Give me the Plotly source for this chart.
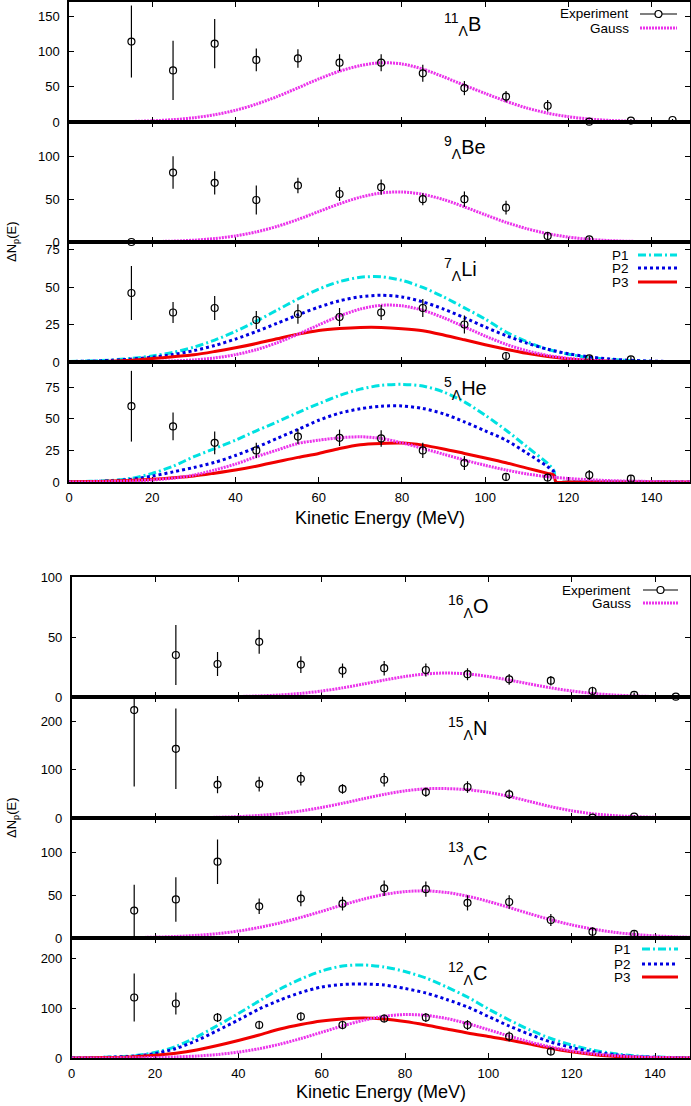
import plotly.graph_objects as go

# ---------------- data ----------------
energy = [15, 25, 35, 45, 55, 65, 75, 85, 95, 105, 115, 125, 135, 145]

grid = [0, 5, 10, 15, 20, 25, 30, 35, 40, 45, 50, 55, 60, 65, 70, 75, 80, 85, 90, 95,
        100, 105, 110, 115, 120, 125, 130, 135, 140, 145, 150]
he_grid = [0, 5, 10, 15, 20, 25, 30, 35, 40, 45, 50, 55, 60, 65, 70, 75, 80, 85, 90, 95,
           100, 105, 110, 115, 116.5, 117, 120, 125, 130, 135, 140, 145, 150]

# 11_Lambda B
B11_exp = [114, 73, 111, 88, 90, 84, 84, 69, 48, 36, 23, 0.5, 2, 2.8]
B11_err = [51, 42, 35, 16, 13, 12, 12, 12, 10, 8, 8, 1.5, 2, 1.5]
B11_gauss = [0.1, 0.2, 0.4, 0.8, 1.7, 3.3, 6.0, 10.3, 16.6, 25.3, 36, 48.4, 61, 72, 80, 84,
             82.3, 75, 64, 52, 40.5, 29.4, 19.8, 12.5, 7.5, 4.2, 2.2, 1.1, 0.5, 0.2, 0.1]

# 9_Lambda Be
Be9_exp = [0, 81, 69, 49, 66, 56, 64, 50, 50, 40, 7, 3, None, None]
Be9_err = [0, 19, 13.5, 17, 9, 8, 9, 7, 9, 8, 5, 3, 0, 0]
Be9_gauss = [0, 0.03, 0.08, 0.2, 0.5, 1.0, 2.1, 4.0, 7.1, 11.8, 18.2, 26.3, 35.5, 44.6, 52.3,
             57.2, 58.4, 55.6, 49.5, 41, 31.8, 22.9, 15.5, 9.7, 5.7, 3.1, 1.6, 0.8, 0.3, 0.15, 0.05]

# 7_Lambda Li
Li7_exp = [46, 33, 36, 28, 32, 30, 33, 36, 25, 4, None, 2.4, 1.8, None]
Li7_err = [18, 7, 8, 6, 6.5, 6, 5, 6, 6, 2.5, 0, 2, 2, 0]
Li7_P1 = [0.4, 0.7, 1.3, 2.4, 4.0, 6.4, 9.9, 14.6, 20.4, 27.2, 34.6, 42, 48.6, 53.6, 56.5, 56.8,
          54.4, 49.7, 43.4, 36.1, 28.6, 20, 13.5, 8.5, 5.2, 3.0, 1.7, 0.9, 0.4, 0.2, 0.1]
Li7_P2 = [0.3, 0.6, 1.1, 2.0, 3.2, 5.0, 7.6, 11.0, 15.3, 20.3, 25.8, 31.4, 36.6, 40.8, 43.5, 44.5,
          43.4, 40.1, 35.3, 29.5, 23.3, 17.6, 12.6, 8.5, 5.5, 3.4, 2.0, 1.1, 0.6, 0.3, 0.1]
Li7_P3 = [0, 0.2, 0.5, 1.2, 2.3, 3.5, 4.8, 7.0, 9.5, 12.3, 15.5, 18.6, 21.0, 22.3, 23.0, 23.0,
          22.2, 20.8, 18.0, 14.8, 11.5, 8.5, 5.8, 3.6, 2.0, 1.1, 0.5, 0.2, 0.1, 0, 0]
Li7_gauss = [0, 0.02, 0.05, 0.12, 0.3, 0.7, 1.4, 2.7, 4.9, 8.2, 12.8, 18.5, 24.7, 30.7, 35.3, 37.8,
             37.5, 34.5, 29.5, 23.4, 17.3, 11.8, 7.5, 4.4, 2.4, 1.2, 0.6, 0.25, 0.1, 0, 0]

# 5_Lambda He
He5_exp = [60, 44, 31, 25, 36, 35, 34.5, 25, 15, 4, 3.5, 5.5, 2.6, None]
He5_err = [28, 11, 9, 6, 6, 6.5, 6.5, 6, 5.5, 3, 3, 4, 3, 0]
He5_P1 = [0.2, 0.5, 1.2, 2.9, 6.8, 12.5, 20, 26.5, 33.1, 40.5, 47.6, 55, 62, 68.5, 73.5, 76.5,
          77.3, 76, 71.3, 63.4, 52.9, 41, 27.9, 14.7, 9, 0, 0, 0, 0, 0, 0, 0, 0]
He5_P2 = [0.1, 0.4, 0.9, 2.2, 4.7, 8, 11.5, 15.5, 21, 27.4, 34.5, 41.6, 48.9, 54.5, 58, 60,
          60.2, 58.2, 54, 47.6, 40.5, 33.1, 23, 12.1, 8, 0, 0, 0, 0, 0, 0, 0, 0]
He5_P3 = [0.1, 0.3, 0.7, 1.3, 2.1, 3.3, 4.7, 7, 9.5, 12.5, 16, 19.5, 22.6, 26.5, 29.5, 30.5,
          30.8, 29.2, 26.2, 22.6, 19, 15.2, 11, 6.8, 5.5, 0, 0, 0, 0, 0, 0, 0, 0]
He5_gauss = [0, 0.1, 0.3, 0.8, 1.6, 3, 5.5, 9.5, 14.2, 20, 25.3, 30.5, 33.1, 35, 35.8, 34.5,
             31, 26.6, 22, 17.4, 13.2, 9.5, 6.4, 4.2, 2.8, 1.8, 1.1, 0.7, 0.4, 0.2, 0.1]

# 16_Lambda O
O16_exp = [None, 35, 27.5, 46, 27, 22, 24, 22.5, 19, 14.7, 13.6, 5, 1.7, 0.3]
O16_err = [0, 25, 10, 10, 7, 6, 6, 5.5, 5, 4.5, 4, 3.5, 2, 1]
O16_gauss = [0, 0, 0, 0, 0.01, 0.03, 0.08, 0.2, 0.4, 0.9, 1.7, 3.0, 5.0, 7.6, 10.8, 14.1,
             17.1, 19.2, 20, 19.2, 17.1, 14.1, 10.8, 7.6, 5.0, 3.0, 1.7, 0.9, 0.4, 0.2, 0.08]

# 15_Lambda N
N15_exp = [223, 143, 69, 70, 81, 60, 79, 53.5, 64, 49, None, 0.7, 2.8, None]
N15_err = [158, 83, 18, 15, 14, 10, 14, 9.5, 12, 10, 0, 1, 3, 0]
N15_gauss = [0, 0, 0, 0.05, 0.14, 0.33, 0.7, 1.5, 2.9, 5.4, 9.1, 14.6, 21.8, 30.4, 39.8, 48.8,
             56.1, 60.3, 60.7, 58.5, 53, 44.5, 34, 23.5, 15, 8.8, 5, 2.8, 1.4, 0.7, 0.3]

# 13_Lambda C
C13_exp = [32, 45, 89, 37, 46, 40, 58, 57, 41, 42, 21, 7.4, 4.7, None]
C13_err = [30, 26, 26, 9, 9, 8, 9, 9, 9, 8, 7, 5, 4.5, 0]
C13_gauss = [0.05, 0.1, 0.25, 0.5, 1.0, 1.8, 3.1, 5.1, 8.1, 12.3, 17.6, 24.0, 31.1, 38.5, 45.3,
             50.8, 54.1, 55, 53.1, 48.8, 42.7, 35.6, 28.2, 21.3, 15.3, 10.5, 6.8, 4.2, 2.5, 1.4, 0.7]

# 12_Lambda C
C12_exp = [121, 109, 81, 66, 83, 66, 79, 81, 66, 43, 13, None, None, None]
C12_err = [48, 22, 9, 8.7, 8.7, 8.7, 8, 9, 10, 10, 8, 0, 0, 0]
C12_P1 = [0.3, 0.8, 2, 4.5, 11, 23, 42, 65, 89, 114, 138, 158, 174, 184, 186, 182, 173, 160,
          142, 122, 98, 76, 56, 39, 26, 16, 9, 4.5, 2, 1, 0.5]
C12_P2 = [0.3, 0.8, 1.8, 4, 9, 19, 35, 55, 76, 98, 116, 131, 142, 147, 148, 146, 139, 130,
          117, 102, 83, 64, 47, 32, 21, 12.5, 7, 3, 1.5, 0.7, 0.3]
C12_P3 = [0.2, 0.5, 1.2, 2.7, 5.3, 9.5, 16, 25, 35, 46, 58, 67, 74, 78, 80, 78, 73, 66, 58, 50,
          43, 36, 28, 19.5, 12.5, 7, 3.5, 1.5, 0.6, 0.2, 0]
C12_gauss = [0.03, 0.09, 0.2, 0.5, 1.0, 2.1, 3.9, 7.0, 11.8, 18.6, 27.7, 38.9, 51.5, 64.1, 75.3,
             83.4, 86.9, 85.3, 79.0, 68.9, 56.6, 43.8, 31.9, 22.0, 14.2, 8.7, 5.0, 2.7, 1.4, 0.7, 0.3]

labels = ["<sup>11</sup><sub>Λ</sub>B", "<sup>9</sup><sub>Λ</sub>Be", "<sup>7</sup><sub>Λ</sub>Li",
          "<sup>5</sup><sub>Λ</sub>He", "<sup>16</sup><sub>Λ</sub>O", "<sup>15</sup><sub>Λ</sub>N",
          "<sup>13</sup><sub>Λ</sub>C", "<sup>12</sup><sub>Λ</sub>C"]
y_ranges = [[0, 170], [0, 140], [0, 80], [0, 95], [0, 100], [0, 250], [0, 140], [0, 240]]
y_ticks = [[0, 50, 100, 150], [0, 50, 100], [0, 25, 50, 75], [0, 25, 50, 75],
           [0, 50, 100], [0, 100, 200], [0, 50, 100], [0, 100, 200]]
x_ticks = [0, 20, 40, 60, 80, 100, 120, 140]

# ---------------- styles ----------------
FONT = "Liberation Sans, Arial, Helvetica, sans-serif"
W, H = 691, 1106
MAG = "rgb(235,50,235)"
CYAN = "rgb(0,225,225)"
BLUE = "rgb(0,0,225)"
RED = "rgb(240,0,0)"
sty = {
    "P1": dict(color=CYAN, width=3, dash="8px,3px,2px,3px"),
    "P2": dict(color=BLUE, width=3, dash="3px,3px"),
    "P3": dict(color=RED, width=3),
    "G": dict(color=MAG, width=3, dash="2px,1px"),
}

# pixel geometry (top y, bottom y) of each panel
panel_px = [(2, 122), (122, 242), (242, 362), (362, 482),
            (577, 697), (697, 818), (818, 938), (938, 1058)]
x_dom_top = [69 / W, 690 / W]
x_dom_bot = [71.7 / W, 690 / W]


def py(p):
    return 1 - p / H


panels = [
    dict(exp=B11_exp, err=B11_err, curves=[("G", grid, B11_gauss)]),
    dict(exp=Be9_exp, err=Be9_err, curves=[("G", grid, Be9_gauss)]),
    dict(exp=Li7_exp, err=Li7_err, curves=[("P1", grid, Li7_P1), ("P2", grid, Li7_P2),
                                           ("P3", grid, Li7_P3), ("G", grid, Li7_gauss)]),
    dict(exp=He5_exp, err=He5_err, curves=[("P1", he_grid, He5_P1), ("P2", he_grid, He5_P2),
                                           ("P3", he_grid, He5_P3), ("G", grid, He5_gauss)]),
    dict(exp=O16_exp, err=O16_err, curves=[("G", grid, O16_gauss)]),
    dict(exp=N15_exp, err=N15_err, curves=[("G", grid, N15_gauss)]),
    dict(exp=C13_exp, err=C13_err, curves=[("G", grid, C13_gauss)]),
    dict(exp=C12_exp, err=C12_err, curves=[("P1", grid, C12_P1), ("P2", grid, C12_P2),
                                           ("P3", grid, C12_P3), ("G", grid, C12_gauss)]),
]

fig = go.Figure()
layout = dict(template="none", width=W, height=H, autosize=False,
              margin=dict(l=0, r=0, t=0, b=0, pad=0),
              paper_bgcolor="white", plot_bgcolor="white", showlegend=False,
              font=dict(family=FONT, size=13, color="black"))

for i, p in enumerate(panels, start=1):
    xs = "x" if i == 1 else f"x{i}"
    ys = "y" if i == 1 else f"y{i}"
    for key, gx, gy in p["curves"]:
        fig.add_trace(go.Scatter(x=gx, y=gy, mode="lines", xaxis=xs, yaxis=ys,
                                 line=dict(shape="spline", smoothing=0.8, **sty[key]),
                                 hoverinfo="skip"))
    fig.add_trace(go.Scatter(
        x=energy, y=p["exp"], mode="markers", xaxis=xs, yaxis=ys,
        marker=dict(symbol="circle-open", size=7, color="black", line=dict(width=1.2, color="black")),
        error_y=dict(type="data", array=p["err"], color="black", thickness=1.2, width=0),
        cliponaxis=(i == 6)))

    top, bot = panel_px[i - 1]
    top_group = i <= 4
    xname = "xaxis" if i == 1 else f"xaxis{i}"
    yname = "yaxis" if i == 1 else f"yaxis{i}"
    layout[xname] = dict(
        domain=x_dom_top if top_group else x_dom_bot,
        range=[0, 149.2] if top_group else [0, 148.4], automargin=False,
        anchor=ys, tickvals=x_ticks, ticks="inside", ticklen=5, tickwidth=1,
        tickcolor="black", showline=True, linecolor="black", linewidth=1.5,
        mirror="ticks", showgrid=False, zeroline=False, layer="below traces",
        showticklabels=(i in (4, 8)), tickfont=dict(size=13, family=FONT),
        ticklabelstandoff=3)
    layout[yname] = dict(
        domain=[py(bot), py(top)], range=y_ranges[i - 1], anchor=xs, automargin=False,
        tickvals=y_ticks[i - 1], ticks="inside", ticklen=5, tickwidth=1,
        tickcolor="black", showline=True, linecolor="black", linewidth=1.5,
        mirror="ticks", showgrid=False, zeroline=False, layer="below traces",
        tickfont=dict(size=13, family=FONT), ticklabelstandoff=5)

fig.update_layout(**layout)

annotations = []
shapes = []

# nucleus labels
label_pos = [(442, 25), (442, 147), (442, 269), (442, 388),
             (446, 606), (446, 728), (446, 853), (446, 973)]
for txt, (lx, ly) in zip(labels, label_pos):
    annotations.append(dict(text=txt, x=lx / W, y=py(ly), xref="paper", yref="paper",
                            xanchor="left", yanchor="middle", showarrow=False,
                            font=dict(size=20, family=FONT)))

# axis titles
for cx, cy in [(380, 518), (381, 1092)]:
    annotations.append(dict(text="Kinetic Energy (MeV)", x=cx / W, y=py(cy), xref="paper",
                            yref="paper", xanchor="center", yanchor="middle", showarrow=False,
                            borderpad=0, font=dict(size=18, family=FONT)))
for cy in [242, 818]:
    annotations.append(dict(text="ΔN<sub>p</sub>(E)", x=12 / W, y=py(cy), xref="paper",
                            yref="paper", xanchor="center", yanchor="middle", showarrow=False,
                            textangle=-90, font=dict(size=13, family=FONT)))


def legend_entry(text, key, tx, ly, lx0, lx1, circle=False):
    annotations.append(dict(text=text, x=tx / W, y=py(ly), xref="paper", yref="paper",
                            xanchor="right", yanchor="middle", showarrow=False,
                            font=dict(size=13.5, family=FONT)))
    if key == "E":
        line = dict(color="black", width=1.2)
    else:
        line = dict(sty[key])
    shapes.append(dict(type="line", xref="paper", yref="paper", x0=lx0 / W, x1=lx1 / W,
                       y0=py(ly), y1=py(ly), line=line))
    if circle:
        cx = (lx0 + lx1) / 2
        shapes.append(dict(type="circle", xref="paper", yref="paper",
                           x0=(cx - 3.5) / W, x1=(cx + 3.5) / W,
                           y0=py(ly + 3.5), y1=py(ly - 3.5),
                           line=dict(color="black", width=1.2), fillcolor="white"))


legend_entry("Experiment", "E", 631, 14, 640, 677, circle=True)
legend_entry("Gauss", "G", 631, 28, 640, 677)
legend_entry("P1", "P1", 631, 255, 638, 677)
legend_entry("P2", "P2", 631, 268, 638, 677)
legend_entry("P3", "P3", 631, 282, 638, 677)
legend_entry("Experiment", "E", 633, 590, 643, 678, circle=True)
legend_entry("Gauss", "G", 633, 603, 643, 678)
legend_entry("P1", "P1", 633, 949, 642, 678)
legend_entry("P2", "P2", 633, 964, 642, 678)
legend_entry("P3", "P3", 633, 977, 642, 678)

fig.update_layout(annotations=annotations, shapes=shapes)
fig.write_html("out.html")
